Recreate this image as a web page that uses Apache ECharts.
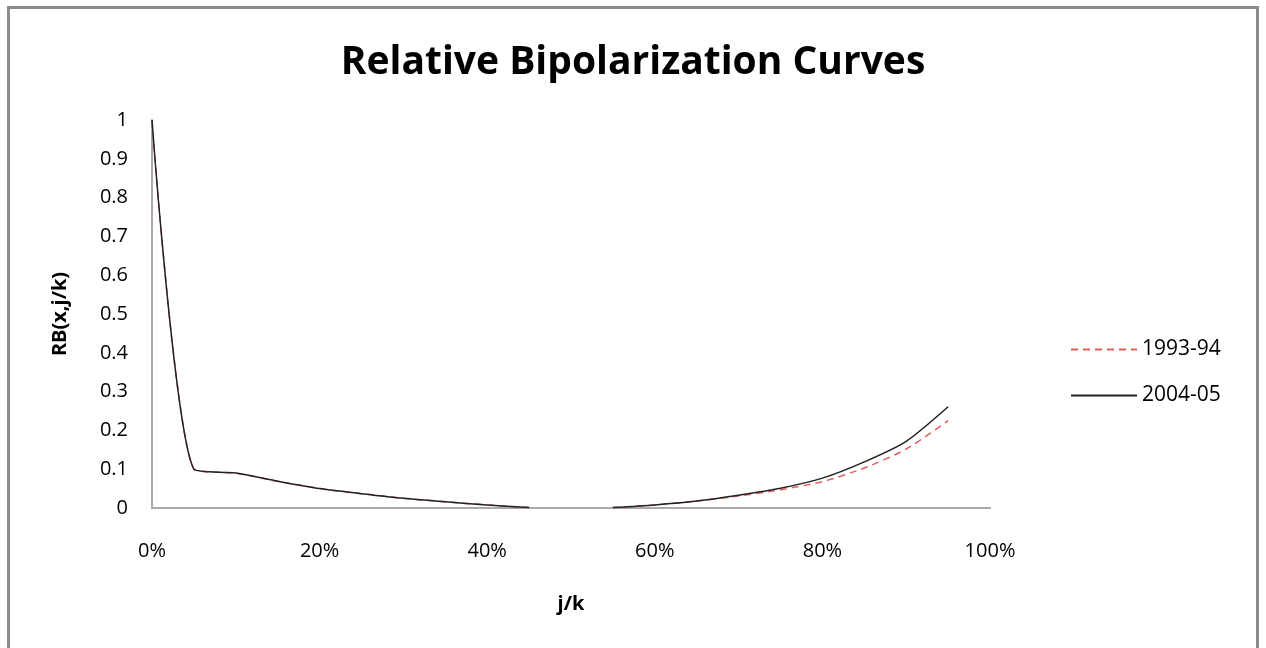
<!DOCTYPE html>
<html>
<head>
<meta charset="utf-8">
<script src="https://cdn.jsdelivr.net/npm/echarts@6/dist/echarts.min.js"></script>
<style>
  html, body { margin: 0; padding: 0; background: #fff; }
  #frame {
    position: absolute; left: 7px; top: 6px; width: 1252px; height: 660px;
    border: 3px solid #8c8c8c; box-sizing: border-box;
  }
  #chart { position: absolute; left: 0; top: 0; width: 1266px; height: 648px; }
</style>
</head>
<body>
<div id="frame"></div>
<div id="chart"></div>
<script>
// j/k in percent, 50% has no value (gap in the curve)
var shares = [0, 5, 10, 15, 20, 25, 30, 35, 40, 45, 50, 55, 60, 65, 70, 75, 80, 85, 90, 95];
var rb1993 = [1, 0.1, 0.09, 0.069, 0.05, 0.037, 0.025, 0.016, 0.008, 0.001, null, 0.001, 0.008, 0.018, 0.031, 0.047, 0.068, 0.103, 0.152, 0.225];
var rb2004 = [1, 0.1, 0.09, 0.069, 0.05, 0.037, 0.025, 0.016, 0.008, 0.001, null, 0.001, 0.008, 0.018, 0.033, 0.051, 0.077, 0.119, 0.172, 0.261];
var yTicks = [0, 0.1, 0.2, 0.3, 0.4, 0.5, 0.6, 0.7, 0.8, 0.9, 1];

var font = '"Open Sans", Lato, sans-serif';

function pairs(vals) {
  return shares.map(function (s, i) {
    return [s, vals[i] === null ? '-' : vals[i]];
  });
}

var chart = echarts.init(document.getElementById('chart'));

var option = {
  backgroundColor: 'transparent',
  animation: false,
  title: {
    text: 'Relative Bipolarization Curves',
    left: 'center',
    top: 38,
    textStyle: { fontFamily: font, fontSize: 39, fontWeight: 'bold', color: '#000' }
  },
  legend: {
    orient: 'vertical',
    left: 1065,
    top: 334,
    itemWidth: 66,
    itemHeight: 14,
    itemGap: 25,
    itemStyle: { opacity: 0 },
    textStyle: { fontFamily: font, fontSize: 21, color: '#000' },
    data: ['1993-94', '2004-05']
  },
  grid: { left: 152, right: 276, top: 120, bottom: 140 },
  xAxis: {
    type: 'value',
    min: 0,
    max: 100,
    interval: 20,
    name: 'j/k',
    nameLocation: 'middle',
    nameGap: 86,
    nameTextStyle: { fontFamily: font, fontSize: 20, fontWeight: 'bold', color: '#000' },
    axisLine: { lineStyle: { color: '#aaa', width: 2 } },
    axisTick: { show: false },
    splitLine: { show: false },
    axisLabel: {
      margin: 33,
      fontFamily: font, fontSize: 20, color: '#000',
      formatter: '{value}%'
    }
  },
  yAxis: {
    type: 'value',
    min: 0,
    max: 1,
    interval: 0.1,
    name: 'RB(x,j/k)',
    nameLocation: 'middle',
    nameGap: 82,
    nameTextStyle: { fontFamily: font, fontSize: 20, fontWeight: 'bold', color: '#000' },
    axisLine: { show: true, lineStyle: { color: '#aaa', width: 2 } },
    axisTick: { show: false },
    splitLine: { show: false },
    axisLabel: {
      margin: 24,
      fontFamily: font, fontSize: 20, color: '#000',
      formatter: function (v) {
        var t = yTicks.filter(function (y) { return Math.abs(y - v) < 1e-9; });
        return t.length ? String(t[0]) : '';
      }
    }
  },
  series: [
    {
      name: '1993-94',
      type: 'line',
      smooth: 0.25,
      symbol: 'none',
      connectNulls: false,
      lineStyle: { color: '#e06060', width: 1.5, type: [7, 5] },
      itemStyle: { color: '#e06060' },
      data: pairs(rb1993),
      z: 2
    },
    {
      name: '2004-05',
      type: 'line',
      smooth: 0.25,
      symbol: 'none',
      connectNulls: false,
      lineStyle: { color: '#222', width: 1.5 },
      itemStyle: { color: '#222' },
      data: pairs(rb2004),
      z: 3
    }
  ]
};

chart.setOption(option);
</script>
</body>
</html>
